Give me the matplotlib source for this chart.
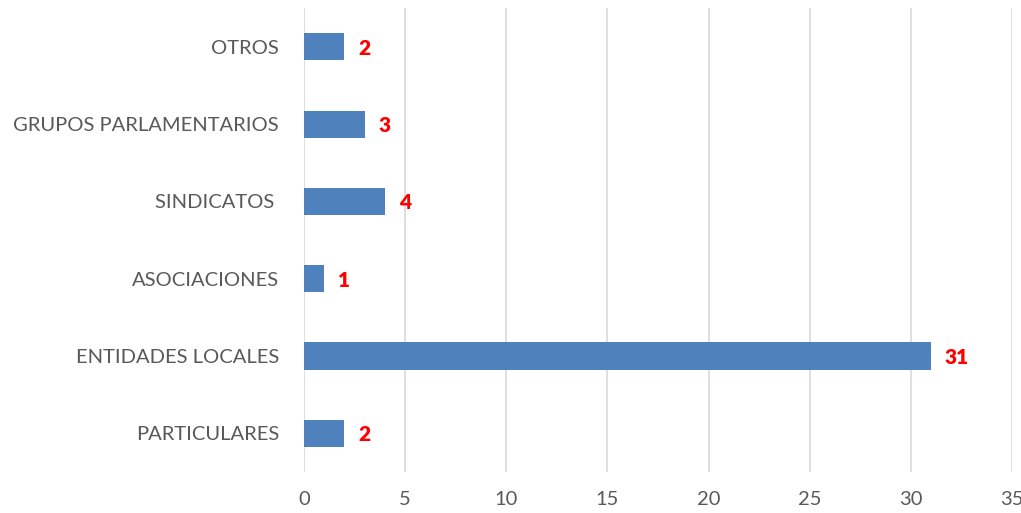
import matplotlib
matplotlib.use('Agg')
import matplotlib.pyplot as plt

# categorías (de abajo hacia arriba) y número de alegaciones
categorias = ['PARTICULARES', 'ENTIDADES LOCALES', 'ASOCIACIONES',
              'SINDICATOS ', 'GRUPOS PARLAMENTARIOS', 'OTROS']
valores = [2, 31, 1, 4, 3, 2]
ticks_x = [0, 5, 10, 15, 20, 25, 30, 35]

plt.rcParams['font.family'] = ['Lato', 'DejaVu Sans']
gris = '#595959'

fig = plt.figure(figsize=(10.21, 5.13), dpi=100)
ax = fig.add_axes([0.2977, 0.080, 0.6934, 0.904])

pos = list(range(len(categorias)))
ax.barh(pos, valores, height=0.35, color='#4F81BD', zorder=3)

for y, v in zip(pos, valores):
    ax.annotate(str(v), (v, y), xytext=(10, -1), textcoords='offset points',
                ha='left', va='center', color='#FF0000', fontsize=15,
                fontweight='heavy')

ax.set_xlim(0, 35)
ax.set_ylim(-0.5, len(categorias) - 0.5)
ax.set_xticks(ticks_x)
ax.set_yticks(pos)
ax.set_yticklabels(categorias)

ax.grid(axis='x', color='#D9D9D9', linewidth=1.2, zorder=0)
for s in ax.spines.values():
    s.set_visible(False)
ax.tick_params(axis='both', length=0, labelsize=14.5, labelcolor=gris)
ax.tick_params(axis='y', pad=18)
ax.tick_params(axis='x', pad=14)

fig.savefig('out.png', dpi=100)
